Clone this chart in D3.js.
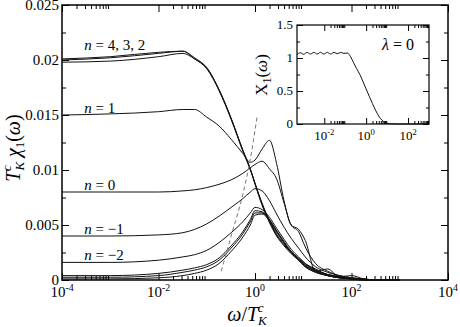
<!DOCTYPE html>
<html>
<head>
<meta charset="utf-8">
<script src="https://cdn.jsdelivr.net/npm/d3@7"></script>
<style>
  body { margin: 0; background: #fff; }
  svg { display: block; }
</style>
</head>
<body>
<svg id="chart" width="460" height="327" font-family="Liberation Serif, Tinos, DejaVu Serif, Times New Roman, Times, serif"></svg>
<script>
// frequency grid, omega / T_K^c
const omega = [1e-4, 1e-3, 0.01, 0.032, 0.056, 0.1, 0.18, 0.32, 0.56, 0.8, 1, 1.4, 2, 2.8, 4, 5.6, 8, 11, 18, 32, 56, 100, 180, 320, 1000];

// T_K^c chi_1(omega) for each n
const chiN4  = [.0201, .0203, .0207, .0208, .0201, .0192, .0172, .0146, .0117, .0100, .0087, .0068, .0052, .0040, .0031, .0024, .0018, .0013, .0008, .0004, .0002, .0001, .00005, 0, 0];
const chiN3  = [.0200, .0202, .0206, .0208, .0202, .0193, .0173, .0147, .0118, .0101, .0088, .0069, .0053, .0041, .0032, .0025, .0019, .0014, .0009, .0005, .0003, .0001, .00005, 0, 0];
const chiN2  = [.0198, .0199, .0203, .0206, .0201, .0193, .0173, .0147, .0118, .0101, .0088, .0070, .0054, .0042, .0033, .0026, .0020, .0015, .0010, .0005, .0003, .0001, .00005, 0, 0];
const chiN1  = [.0150, .0151, .0153, .0155, .0155, .0148, .0140, .0128, .0115, .0107, .0109, .0119, .0127, .0106, .0072, .0050, .0046, .0036, .0008, .0010, .0003, .0004, .0001, 0, 0];
const chiN0  = [.0080, .0080, .0080, .0081, .0082, .0084, .0087, .0091, .0097, .0102, .0105, .0108, .0101, .0092, .0070, .0050, .0044, .0030, .0015, .0008, .0004, .0002, .0001, 0, 0];
const chiNm1 = [.0040, .0040, .0041, .0043, .0046, .0051, .0058, .0066, .0074, .0080, .0083, .0081, .0072, .0060, .0048, .0038, .0029, .0021, .0012, .0007, .0004, .0002, .0001, 0, 0];
const chiNm2 = [.0016, .0016, .0018, .0021, .0023, .0027, .0034, .0043, .0053, .0061, .0066, .0064, .0057, .0047, .0037, .0028, .0021, .0015, .0009, .0005, .0003, .0001, 0, 0, 0];
const chiNm3 = [.0004, .0004, .0006, .0009, .0011, .0014, .0020, .0031, .0044, .0055, .0063, .0062, .0055, .0045, .0035, .0026, .0019, .0013, .0008, .0004, .0002, .0001, 0, 0, 0];
const chiNm4 = [.00025, .00025, .0004, .0007, .0009, .0012, .0018, .0029, .0042, .0053, .0061, .0061, .0054, .0044, .0034, .0025, .0018, .0012, .0007, .0004, .0002, .0001, 0, 0, 0];
const chiNm5 = [.0001, .0001, .0002, .0004, .0006, .0009, .0015, .0026, .0039, .0050, .0059, .0060, .0054, .0044, .0034, .0025, .0018, .0012, .0007, .0004, .0002, .0001, 0, 0, 0];
const seriesList = [chiN4, chiN3, chiN2, chiN1, chiN0, chiNm1, chiNm2, chiNm3, chiNm4, chiNm5];

// dashed guide line
const dashOmega = [0.2, 0.32, 0.56, 0.8, 1.1];
const dashChi = [.0008, .0040, .0078, .0110, .0148];

// inset, lambda = 0
const insetOmega = [5e-4, 7.2e-4, 1.05e-3, 1.5e-3, 2.2e-3, 3.2e-3, 4.6e-3, 6.6e-3, 9.5e-3, 0.014, 0.02, 0.029, 0.042, 0.06, 0.087, 0.126, 0.18, 0.25, 0.35, 0.5, 0.71, 1, 1.4, 2, 2.8, 4, 5.6, 8, 11, 16, 32, 100, 320, 1000];
const insetChi = [1.05, 1.08, 1.055, 1.085, 1.06, 1.085, 1.06, 1.085, 1.06, 1.085, 1.06, 1.085, 1.065, 1.085, 1.07, 1.075, 1.02, 0.93, 0.84, 0.75, 0.64, 0.53, 0.42, 0.31, 0.21, 0.12, 0.06, 0.025, 0.01, 0.003, 0, 0, 0, 0];

// axes
const xMajor = [1e-4, 1e-2, 1, 1e2, 1e4];
const xExponents = ['-4', '-2', '0', '2', '4'];
const yMajor = [0, 0.005, 0.01, 0.015, 0.02, 0.025];
const yMinor = [0.0025, 0.0075, 0.0125, 0.0175, 0.0225];
const yLabels = ['0', '0.005', '0.01', '0.015', '0.02', '0.025'];
const insetXMajor = [1e-2, 1, 1e2];
const insetXExponents = ['-2', '0', '2'];
const insetYMajor = [0, 0.5, 1, 1.5];
const insetYMinor = [0.25, 0.75, 1.25];
const insetYLabels = ['0', '0.5', '1', '1.5'];

// curve labels (which series plateau they sit on)
const curveLabels = ['4, 3, 2', '1', '0', '\u22121', '\u22122'];
const curveLabelSeries = [chiN4, chiN1, chiN0, chiNm1, chiNm2];

const svg = d3.select('#chart');

const x = d3.scaleLog().domain([1e-4, 1e4]).range([62, 448]);
const y = d3.scaleLinear().domain([0, 0.025]).range([280, 5]);

// xmgrace style log minor ticks: 2..9 times each major
function logMinors(majors, lo, hi) {
  const out = [];
  majors.forEach(m => { for (let k = 2; k <= 9; k++) { const v = m * k; if (v > lo && v < hi) out.push(v); } });
  return out;
}

function addAxis(axis, tx, ty) {
  svg.append('g')
    .attr('transform', 'translate(' + tx + ',' + ty + ')')
    .call(axis)
    .call(g => g.attr('font-family', null))
    .call(g => g.select('.domain').remove())
    .call(g => g.selectAll('.tick line').attr('stroke', '#000').attr('stroke-width', 1));
}

function powerLabel(px, py, exp, size) {
  const t = svg.append('text')
    .attr('x', px).attr('y', py)
    .attr('text-anchor', 'middle')
    .style('font-size', size + 'px');
  t.append('tspan').text('10');
  t.append('tspan').attr('dy', -size * 0.42).style('font-size', (size * 0.66) + 'px').text(exp);
}

const xMinor = logMinors(xMajor, 1e-4, 1e4);

addAxis(d3.axisBottom(x).tickValues(xMajor).tickSize(-7).tickFormat(''), 0, 280);
addAxis(d3.axisBottom(x).tickValues(xMinor).tickSize(-4).tickFormat(''), 0, 280);
addAxis(d3.axisTop(x).tickValues(xMajor).tickSize(-7).tickFormat(''), 0, 5);
addAxis(d3.axisTop(x).tickValues(xMinor).tickSize(-4).tickFormat(''), 0, 5);
addAxis(d3.axisLeft(y).tickValues(yMajor).tickSize(-7).tickFormat(''), 62, 0);
addAxis(d3.axisLeft(y).tickValues(yMinor).tickSize(-4).tickFormat(''), 62, 0);
addAxis(d3.axisRight(y).tickValues(yMajor).tickSize(-7).tickFormat(''), 448, 0);
addAxis(d3.axisRight(y).tickValues(yMinor).tickSize(-4).tickFormat(''), 448, 0);

svg.append('rect')
  .attr('x', 62).attr('y', 5)
  .attr('width', 448 - 62).attr('height', 280 - 5)
  .attr('fill', 'none').attr('stroke', '#000').attr('stroke-width', 1.5);

// tick labels
xMajor.forEach((v, i) => powerLabel(x(v), 297, xExponents[i], 15));

svg.selectAll('.ylab')
  .data(yMajor)
  .enter()
  .append('text')
    .attr('x', 59)
    .attr('y', d => y(d) + 5)
    .attr('text-anchor', 'end')
    .style('font-size', '15px')
    .text((d, i) => yLabels[i]);

// axis titles
const xTitle = svg.append('text')
  .attr('x', 247).attr('y', 321)
  .attr('text-anchor', 'middle')
  .style('font-size', '20px');
xTitle.append('tspan').style('font-style', 'italic').text('\u03c9');
xTitle.append('tspan').text('/');
xTitle.append('tspan').style('font-style', 'italic').text('T');
xTitle.append('tspan').attr('dy', 4).style('font-size', '13px').style('font-style', 'italic').text('K');
xTitle.append('tspan').attr('dx', -9).attr('dy', -13).style('font-size', '13px').style('font-style', 'italic').text('c');

const yTitle = svg.append('text')
  .attr('transform', 'translate(20,148) rotate(-90)')
  .attr('text-anchor', 'middle')
  .style('font-size', '20px');
yTitle.append('tspan').style('font-style', 'italic').text('T');
yTitle.append('tspan').attr('dy', 4).style('font-size', '13px').style('font-style', 'italic').text('K');
yTitle.append('tspan').attr('dx', -9).attr('dy', -13).style('font-size', '13px').style('font-style', 'italic').text('c');
yTitle.append('tspan').attr('dx', 8).attr('dy', 9).style('font-style', 'italic').text('\u03c7');
yTitle.append('tspan').attr('dy', 4).style('font-size', '13px').text('1');
yTitle.append('tspan').attr('dy', -4).text('(');
yTitle.append('tspan').style('font-style', 'italic').text('\u03c9');
yTitle.append('tspan').text(')');

// curves
const line = d3.line()
  .x((d, i) => x(omega[i]))
  .y(d => y(d))
  .curve(d3.curveMonotoneX);

svg.selectAll('.curve')
  .data(seriesList)
  .enter()
  .append('path')
    .attr('class', 'curve')
    .attr('d', line)
    .attr('fill', 'none')
    .attr('stroke', '#111')
    .attr('stroke-width', 1);

const dashLine = d3.line()
  .x((d, i) => x(dashOmega[i]))
  .y(d => y(d))
  .curve(d3.curveMonotoneX);

svg.append('path')
  .attr('d', dashLine(dashChi))
  .attr('fill', 'none')
  .attr('stroke', '#777')
  .attr('stroke-width', 1)
  .attr('stroke-dasharray', '4,3');

// n = ... labels
curveLabels.forEach((txt, i) => {
  const t = svg.append('text')
    .attr('x', x(2.9e-4))
    .attr('y', y(curveLabelSeries[i][0]) - (i === 0 ? 9 : 2))
    .attr('xml:space', 'preserve')
    .style('font-size', '15px');
  t.append('tspan').style('font-style', 'italic').text('n');
  t.append('tspan').text(' = ' + txt);
});

// inset
const xi = d3.scaleLog().domain([5e-4, 1e3]).range([297, 429]);
const yi = d3.scaleLinear().domain([0, 1.5]).range([124, 25]);

svg.append('rect')
  .attr('x', 297).attr('y', 25)
  .attr('width', 429 - 297).attr('height', 124 - 25)
  .attr('fill', '#fff');

const insetXMinor = logMinors(insetXMajor, 5e-4, 1e3);
addAxis(d3.axisBottom(xi).tickValues(insetXMajor).tickSize(-6).tickFormat(''), 0, 124);
addAxis(d3.axisBottom(xi).tickValues(insetXMinor).tickSize(-3).tickFormat(''), 0, 124);
addAxis(d3.axisTop(xi).tickValues(insetXMajor).tickSize(-6).tickFormat(''), 0, 25);
addAxis(d3.axisTop(xi).tickValues(insetXMinor).tickSize(-3).tickFormat(''), 0, 25);
addAxis(d3.axisLeft(yi).tickValues(insetYMajor).tickSize(-6).tickFormat(''), 297, 0);
addAxis(d3.axisLeft(yi).tickValues(insetYMinor).tickSize(-3).tickFormat(''), 297, 0);
addAxis(d3.axisRight(yi).tickValues(insetYMajor).tickSize(-6).tickFormat(''), 429, 0);
addAxis(d3.axisRight(yi).tickValues(insetYMinor).tickSize(-3).tickFormat(''), 429, 0);

svg.append('rect')
  .attr('x', 297).attr('y', 25)
  .attr('width', 429 - 297).attr('height', 124 - 25)
  .attr('fill', 'none').attr('stroke', '#000').attr('stroke-width', 1.2);

const insetLine = d3.line()
  .x((d, i) => xi(insetOmega[i]))
  .y(d => yi(d))
  .curve(d3.curveMonotoneX);

svg.append('path')
  .attr('d', insetLine(insetChi))
  .attr('fill', 'none')
  .attr('stroke', '#111')
  .attr('stroke-width', 1);

insetXMajor.forEach((v, i) => powerLabel(xi(v), 140, insetXExponents[i], 13));

svg.selectAll('.iylab')
  .data(insetYMajor)
  .enter()
  .append('text')
    .attr('x', 293)
    .attr('y', d => yi(d) + 4)
    .attr('text-anchor', 'end')
    .style('font-size', '13px')
    .text((d, i) => insetYLabels[i]);

const iTitle = svg.append('text')
  .attr('transform', 'translate(267,75) rotate(-90)')
  .attr('text-anchor', 'middle')
  .style('font-size', '17px');
iTitle.append('tspan').text('X');
iTitle.append('tspan').attr('dy', 4).style('font-size', '12px').text('1');
iTitle.append('tspan').attr('dy', -4).text('(');
iTitle.append('tspan').style('font-style', 'italic').text('\u03c9');
iTitle.append('tspan').text(')');

const lam = svg.append('text')
  .attr('x', 382).attr('y', 50)
  .attr('xml:space', 'preserve')
  .style('font-size', '16px');
lam.append('tspan').style('font-style', 'italic').text('\u03bb');
lam.append('tspan').text(' = 0');
</script>
</body>
</html>
